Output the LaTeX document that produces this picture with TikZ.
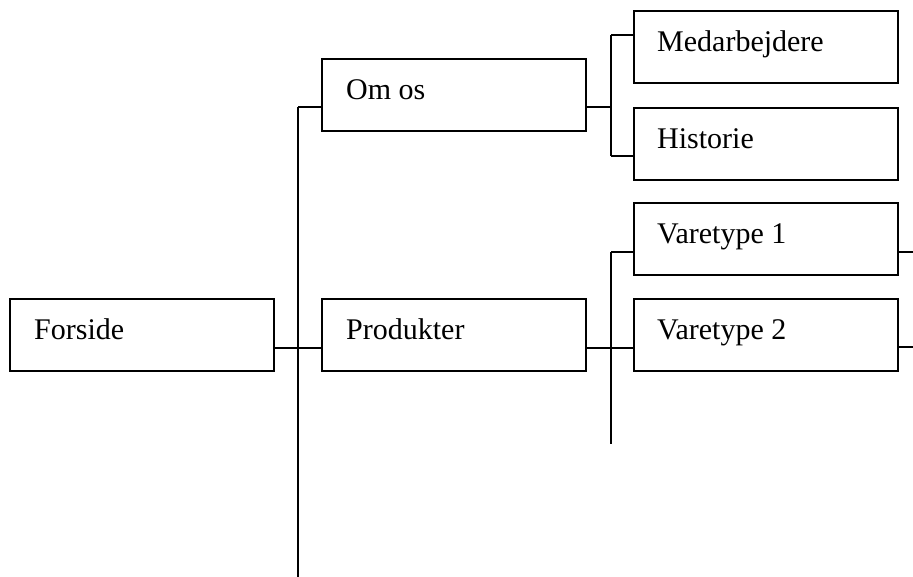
\documentclass[tikz,border=0pt]{standalone}
\usepackage{fontspec}
\setmainfont{Liberation Serif}
\begin{document}
\begin{tikzpicture}[x=1pt,y=-1pt,
  box/.style={draw, line width=1.5pt, minimum width=264pt, minimum height=72pt, anchor=north west, inner sep=0pt, outer sep=0pt},
  lbl/.style={anchor=base west, inner sep=0pt, font=\fontsize{30}{36}\selectfont},
  conn/.style={line width=1.5pt}]
\useasboundingbox (0,0) rectangle (913,577);
% boxes
\node[box] (forside) at (10,299) {};
\node[box] (omos) at (322,59) {};
\node[box] (prod) at (322,299) {};
\node[box] (medarb) at (634,11) {};
\node[box] (hist) at (634,108) {};
\node[box] (vare1) at (634,203) {};
\node[box] (vare2) at (634,299) {};
% labels
\node[lbl] (forside-t) at ([xshift=24pt,yshift=-41pt]forside.north west) {Forside};
\node[lbl] (omos-t) at ([xshift=24pt,yshift=-41pt]omos.north west) {Om os};
\node[lbl] (prod-t) at ([xshift=24pt,yshift=-41pt]prod.north west) {Produkter};
\node[lbl] (medarb-t) at ([xshift=23pt,yshift=-41pt]medarb.north west) {Medarbejdere};
\node[lbl] (hist-t) at ([xshift=23pt,yshift=-41pt]hist.north west) {Historie};
\node[lbl] (vare1-t) at ([xshift=23pt,yshift=-41pt]vare1.north west) {Varetype 1};
\node[lbl] (vare2-t) at ([xshift=23pt,yshift=-41pt]vare2.north west) {Varetype 2};
% trunk 1
\coordinate (t1top) at (298,107);
\coordinate (t1bot) at (298,577);
\coordinate (j1) at (298,348);
\draw[conn] (t1top) -- (t1bot);
\draw[conn] (t1top) -- (omos.west |- t1top);
\draw[conn] (forside.east |- j1) -- (prod.west |- j1);
% trunk 2
\coordinate (t2top) at (611,35);
\coordinate (t2bot) at (611,156);
\coordinate (j2) at (611,107);
\draw[conn] (t2top) -- (t2bot);
\draw[conn] (omos.east |- j2) -- (j2);
\draw[conn] (t2top) -- (medarb.west |- t2top);
\draw[conn] (t2bot) -- (hist.west |- t2bot);
% trunk 3
\coordinate (t3top) at (611,252);
\coordinate (t3bot) at (611,444);
\coordinate (j3) at (611,348);
\draw[conn] (t3top) -- (t3bot);
\draw[conn] (t3top) -- (vare1.west |- t3top);
\draw[conn] (prod.east |- j3) -- (vare2.west |- j3);
% stubs
\coordinate (s1) at (913,252);
\coordinate (s2) at (913,347);
\draw[conn] (vare1.east |- s1) -- (s1);
\draw[conn] (vare2.east |- s2) -- (s2);
\end{tikzpicture}
\end{document}
